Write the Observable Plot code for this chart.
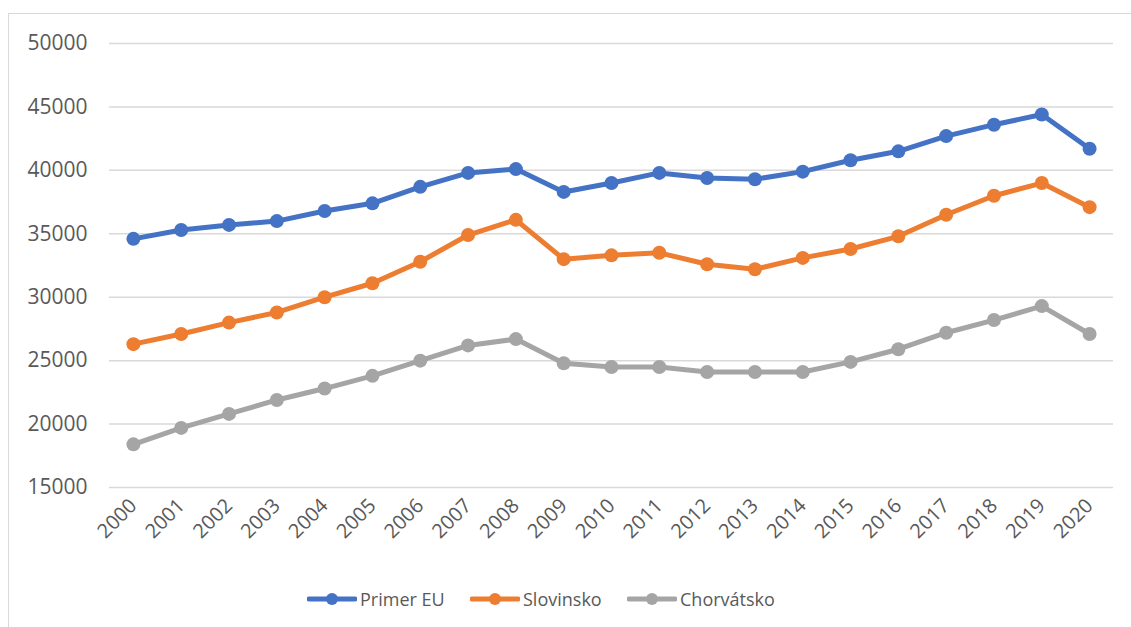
<!DOCTYPE html>
<html>
<head>
<meta charset="utf-8">
<script src="https://cdn.jsdelivr.net/npm/d3@7"></script>
<script src="https://cdn.jsdelivr.net/npm/@observablehq/plot@0.6"></script>
<style>
  html, body { margin: 0; padding: 0; background: #fff; }
  body { width: 1131px; height: 627px; position: relative; overflow: hidden; font-family: "Open Sans", sans-serif; }
  #frame { position: absolute; left: 8px; top: 13px; width: 1200px; height: 700px; border-left: 1.5px solid #d9d9d9; border-top: 1.5px solid #d9d9d9; }
  #chart { position: absolute; left: 0; top: 0; }
  #legend { position: absolute; top: 585px; left: 0; width: 1131px; height: 28px; }
  .item { position: absolute; top: 0; display: flex; align-items: center; height: 28px; font-size: 18px; color: #595959; white-space: nowrap; }
  .item svg { margin-right: 3px; }
</style>
</head>
<body>
<div id="frame"></div>
<div id="chart"></div>
<div id="legend"></div>
<script>
const years = ["2000","2001","2002","2003","2004","2005","2006","2007","2008","2009","2010","2011","2012","2013","2014","2015","2016","2017","2018","2019","2020"];
const seriesNames = ["Primer EU", "Slovinsko", "Chorvátsko"];
const seriesColors = ["#4472C4", "#ED7D31", "#A5A5A5"];
const primerEU = [34600,35300,35700,36000,36800,37400,38700,39800,40100,38300,39000,39800,39400,39300,39900,40800,41500,42700,43600,44400,41700];
const slovinsko = [26300,27100,28000,28800,30000,31100,32800,34900,36100,33000,33300,33500,32600,32200,33100,33800,34800,36500,38000,39000,37100];
const chorvatsko = [18400,19700,20800,21900,22800,23800,25000,26200,26700,24800,24500,24500,24100,24100,24100,24900,25900,27200,28200,29300,27100];
const yTicks = [15000,20000,25000,30000,35000,40000,45000,50000];

const seriesValues = [primerEU, slovinsko, chorvatsko];
const data = [];
seriesNames.forEach((name, i) => {
  years.forEach((yr, j) => data.push({series: name, year: +yr, value: seriesValues[i][j]}));
});
const yearNums = years.map(Number);

const chart = Plot.plot({
  width: 1131,
  height: 560,
  marginLeft: 109,
  marginRight: 18,
  marginTop: 43,
  marginBottom: 73,
  style: { fontFamily: "Open Sans, sans-serif", color: "#595959", background: "transparent", overflow: "visible" },
  x: { type: "linear", domain: [yearNums[0] - 0.5, yearNums[yearNums.length - 1] + 0.5], label: null },
  y: { domain: [15000, 50000], label: null },
  color: { domain: seriesNames, range: seriesColors },
  marks: [
    Plot.gridY(yTicks, { stroke: "#d9d9d9", strokeOpacity: 1, strokeWidth: 1.5 }),
    Plot.axisY(yTicks, { tickSize: 0, tickPadding: 22, fontSize: 21, tickFormat: d => String(d), label: null }),
    Plot.axisX(yearNums, { tickSize: 0, tickPadding: 15, tickRotate: -45, fontSize: 20, tickFormat: d => String(d), label: null }),
    Plot.line(data, { x: "year", y: "value", z: "series", stroke: "series", strokeWidth: 5, strokeLinejoin: "round", strokeLinecap: "round" }),
    Plot.dot(data, { x: "year", y: "value", fill: "series", r: 7 })
  ]
});
document.getElementById("chart").appendChild(chart);

const legendPos = [307, 470, 627];
const legend = document.getElementById("legend");
seriesNames.forEach((name, i) => {
  const div = document.createElement("div");
  div.className = "item";
  div.style.left = legendPos[i] + "px";
  div.innerHTML = `<svg width="50" height="14"><line x1="2" y1="7" x2="48" y2="7" stroke="${seriesColors[i]}" stroke-width="5" stroke-linecap="round"/><circle cx="25" cy="7" r="6" fill="${seriesColors[i]}"/></svg><span>${name}</span>`;
  legend.appendChild(div);
});
</script>
</body>
</html>
